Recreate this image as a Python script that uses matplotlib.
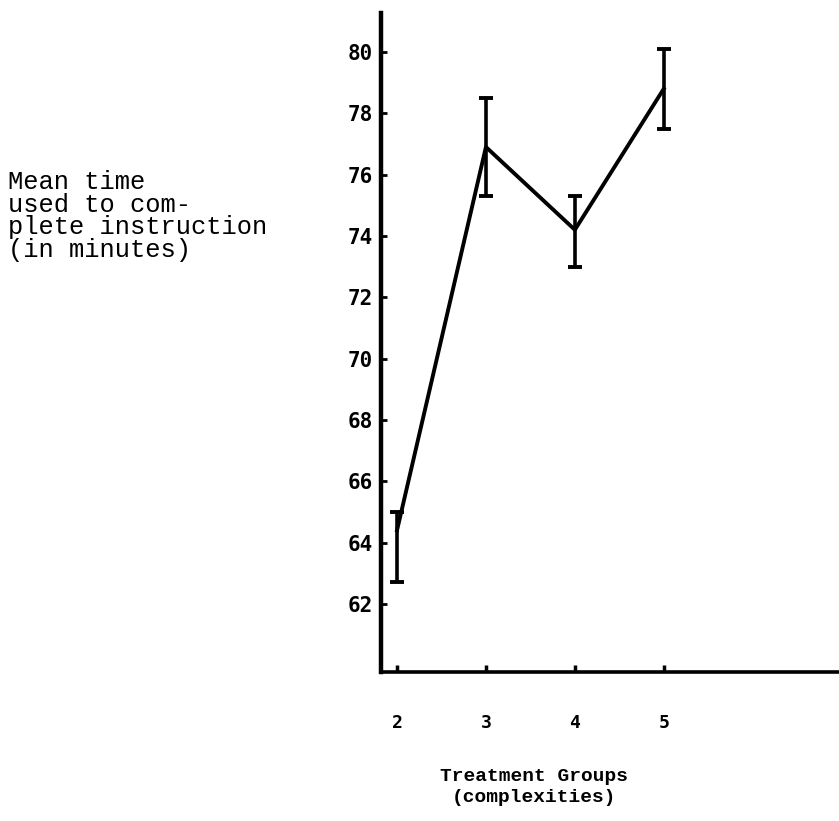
import matplotlib
matplotlib.use("Agg")
import matplotlib.pyplot as plt

groups = [2, 3, 4, 5]
group_labels = ["2", "3", "4", "5"]
mean_time = [64.4, 76.9, 74.2, 78.8]
err_upper = [65.0, 78.5, 75.3, 80.1]
err_lower = [62.7, 75.3, 73.0, 77.5]
y_ticks = [62, 64, 66, 68, 70, 72, 74, 76, 78, 80]
y_label_lines = ["Mean time", "used to com-", "plete instruction", "(in minutes)"]
x_label_lines = ["Treatment Groups", "(complexities)"]

W, H = 839, 821
fig = plt.figure(figsize=(W / 100, H / 100), dpi=100)
ax = fig.add_axes([381 / W, 1 - 672 / H, (W - 381) / W, (672 - 13) / H])

yerr = [[m - lo for m, lo in zip(mean_time, err_lower)],
        [hi - m for m, hi in zip(mean_time, err_upper)]]
ax.errorbar(groups, mean_time, yerr=yerr, color="black", lw=2.8,
            elinewidth=2.6, capsize=5, capthick=2.8, clip_on=False)

ax.set_xlim(1.82, 6.97)
ax.set_ylim(59.78, 81.27)
ax.set_yticks(y_ticks)
ax.set_yticklabels([str(v) for v in y_ticks],
                   fontfamily="DejaVu Sans Mono", fontweight="bold", fontsize=15)
ax.set_xticks(groups)
ax.set_xticklabels(group_labels, fontfamily="DejaVu Sans Mono",
                   fontweight="bold", fontsize=13)
ax.tick_params(axis="y", direction="in", length=4, width=2, pad=6)
ax.tick_params(axis="x", direction="in", length=5, width=2.5, pad=30)
for s in ["top", "right"]:
    ax.spines[s].set_visible(False)
ax.spines["left"].set_linewidth(3.2)
ax.spines["bottom"].set_linewidth(2.6)

for i, line in enumerate(y_label_lines):
    fig.text(8 / W, 1 - (182 + 22.5 * i) / H, line, ha="left", va="center",
             fontfamily="Liberation Mono", fontsize=18.4, color="black")
for i, line in enumerate(x_label_lines):
    fig.text(534 / W, 1 - (776 + 21 * i) / H, line, ha="center", va="center",
             fontfamily="Liberation Mono", fontsize=14, fontweight="bold",
             color="black")

fig.savefig("out.png", dpi=100)
